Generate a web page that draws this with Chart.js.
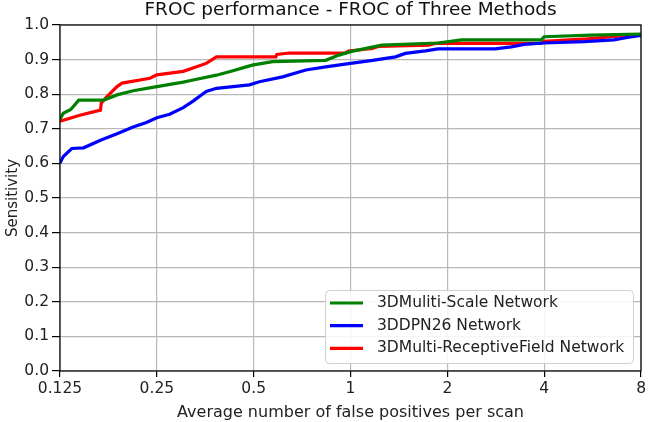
<!DOCTYPE html>
<html>
<head>
<meta charset="utf-8">
<script src="https://cdn.jsdelivr.net/npm/chart.js@4"></script>
<style>
  html, body { margin: 0; padding: 0; background: #fff; }
  #wrap { width: 649px; height: 422px; }
</style>
</head>
<body>
<div id="wrap"><canvas id="froc"></canvas></div>
<script>
// FROC curves

const xTicks = [0.125, 0.25, 0.5, 1, 2, 4, 8];

const scaleX = [0.125, 0.128, 0.135, 0.143, 0.171, 0.188, 0.211, 0.25, 0.302, 0.324, 0.383, 0.431, 0.474, 0.495, 0.572, 0.837, 0.92, 1.0, 1.25, 1.87, 2.21, 3.91, 4.0, 5.58, 8];
const scaleY = [0.728, 0.745, 0.756, 0.783, 0.783, 0.798, 0.81, 0.822, 0.835, 0.841, 0.855, 0.868, 0.879, 0.884, 0.894, 0.898, 0.913, 0.923, 0.942, 0.948, 0.957, 0.957, 0.966, 0.971, 0.974];

const dpnX = [0.125, 0.128, 0.136, 0.148, 0.167, 0.188, 0.211, 0.232, 0.25, 0.274, 0.302, 0.324, 0.356, 0.383, 0.431, 0.485, 0.521, 0.615, 0.726, 0.837, 1.0, 1.17, 1.38, 1.48, 1.71, 1.87, 2.81, 3.16, 3.47, 4.0, 5.33, 6.59, 7.24, 8];
const dpnY = [0.601, 0.62, 0.643, 0.645, 0.667, 0.686, 0.705, 0.718, 0.732, 0.742, 0.761, 0.78, 0.808, 0.817, 0.822, 0.827, 0.836, 0.85, 0.87, 0.879, 0.889, 0.898, 0.908, 0.918, 0.925, 0.931, 0.931, 0.937, 0.944, 0.948, 0.952, 0.957, 0.964, 0.97];

const rfX = [0.125, 0.145, 0.167, 0.168, 0.175, 0.188, 0.195, 0.238, 0.25, 0.302, 0.356, 0.383, 0.586, 0.59, 0.645, 0.965, 0.985, 1.17, 1.22, 1.75, 1.83, 3.91, 4.0, 5.45, 6.76, 8];
const rfY = [0.722, 0.74, 0.754, 0.775, 0.793, 0.822, 0.832, 0.846, 0.856, 0.866, 0.889, 0.908, 0.908, 0.915, 0.919, 0.919, 0.925, 0.932, 0.938, 0.942, 0.947, 0.947, 0.953, 0.96, 0.968, 0.972];

const seriesNames = ["3DMuliti-Scale Network", "3DDPN26 Network", "3DMulti-ReceptiveField Network"];
const seriesColors = ["#008000", "#0000ff", "#ff0000"];

const FONT = "'DejaVu Sans', sans-serif";

function pts(xs, ys) {
  return xs.map((x, i) => ({ x: x, y: ys[i] }));
}

const line = (i, xs, ys) => ({
  label: seriesNames[i],
  data: pts(xs, ys),
  borderColor: seriesColors[i],
  backgroundColor: seriesColors[i],
  borderWidth: 3.2,
  pointRadius: 0,
  tension: 0,
  fill: false
});

// frame around plot + legend box in the lower right, matplotlib style
const framePlugin = {
  id: "frame",
  afterDraw(chart) {
    const { ctx, chartArea: a } = chart;
    ctx.save();
    ctx.strokeStyle = "#000";
    ctx.lineWidth = 1.2;
    ctx.strokeRect(a.left, a.top, a.right - a.left, a.bottom - a.top);

    const bx = 325, by = 290, bw = 308, bh = 73;
    ctx.fillStyle = "rgba(255,255,255,0.85)";
    ctx.strokeStyle = "#d0d0d0";
    ctx.lineWidth = 1;
    ctx.beginPath();
    ctx.roundRect(bx + 0.5, by + 0.5, bw, bh, 4);
    ctx.fill();
    ctx.stroke();

    ctx.font = "15.5px " + FONT;
    ctx.textBaseline = "middle";
    seriesNames.forEach((name, i) => {
      const y = by + 13 + i * 22.7;
      ctx.strokeStyle = seriesColors[i];
      ctx.lineWidth = 3.2;
      ctx.beginPath();
      ctx.moveTo(bx + 5, y);
      ctx.lineTo(bx + 38, y);
      ctx.stroke();
      ctx.fillStyle = "#222";
      ctx.fillText(name, bx + 52, y);
    });
    ctx.restore();
  }
};

function init() {
  const ctx = document.getElementById("froc").getContext("2d");
  new Chart(ctx, {
    type: "line",
    data: {
      datasets: [
        line(0, scaleX, scaleY),
        line(1, dpnX, dpnY),
        line(2, rfX, rfY)
      ]
    },
    options: {
      responsive: true,
      maintainAspectRatio: false,
      animation: false,
      layout: { padding: { left: 0, right: 6, top: 0, bottom: 0 } },
      plugins: {
        legend: { display: false },
        tooltip: { enabled: false },
        title: {
          display: true,
          fullSize: false,
          text: "FROC performance - FROC of Three Methods",
          color: "#111",
          font: { family: FONT, size: 18.5, weight: "normal", lineHeight: 1.0 },
          padding: { top: 1, bottom: 5.5 }
        }
      },
      scales: {
        x: {
          type: "logarithmic",
          min: 0.125,
          max: 8,
          afterBuildTicks(scale) {
            scale.ticks = xTicks.map(v => ({ value: v }));
          },
          afterFit(scale) { scale.height = 51; },
          ticks: {
            color: "#222",
            font: { family: FONT, size: 15.5 },
            maxRotation: 0,
            autoSkip: false,
            padding: 3,
            callback: v => String(v)
          },
          grid: { color: "#b8b8b8", lineWidth: 1.2, tickColor: "#000", tickLength: 6 },
          border: { display: false },
          title: {
            display: true,
            text: "Average number of false positives per scan",
            color: "#222",
            font: { family: FONT, size: 16 },
            padding: { top: 0, bottom: 0 }
          }
        },
        y: {
          min: 0,
          max: 1,
          afterFit(scale) { scale.width = 60; },
          ticks: {
            stepSize: 0.1,
            color: "#222",
            font: { family: FONT, size: 15.5 },
            padding: 3,
            callback: v => Number(v).toFixed(1)
          },
          grid: { color: "#b8b8b8", lineWidth: 1.2, tickColor: "#000", tickLength: 8 },
          border: { display: false },
          title: {
            display: true,
            text: "Sensitivity",
            color: "#222",
            font: { family: FONT, size: 15 },
            padding: { top: 4, bottom: 0 }
          }
        }
      }
    },
    plugins: [framePlugin]
  });
}

window.addEventListener("load", init);
</script>
</body>
</html>
